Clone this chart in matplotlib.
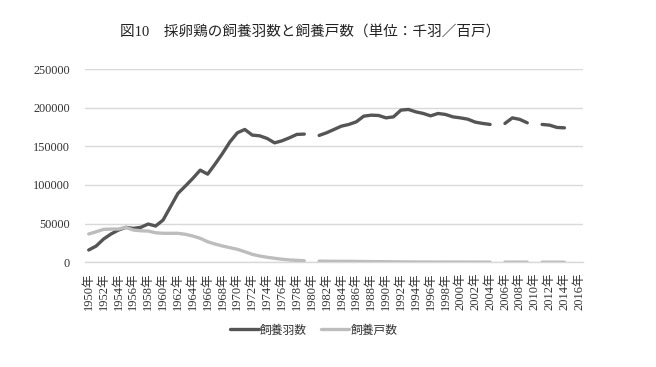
import numpy as np
import matplotlib
matplotlib.use("Agg")
import matplotlib.pyplot as plt

years = list(range(1950, 2017))
nan = np.nan

# 飼養羽数 (千羽)
hasu = [15900, 21000, 30100, 36600, 41700, 45200, 43900, 45200, 49500, 46900,
        54600, 71800, 89100, 98600, 108500, 119200, 114000, 127000, 140800, 155800,
        167500, 171800, 164500, 163600, 160200, 154500, 157100, 161000, 165400, 165800,
        nan, 164100, 167500, 171800, 176100, 178300, 181700, 189000, 190300, 189900,
        186800, 188100, 196800, 197700, 194600, 192500, 189400, 192500, 191200, 188100,
        186800, 185100, 181300, 179600, 178300, nan, 179600, 186800, 184800, 180400,
        nan, 178300, 177400, 174400, 173900, nan, nan]

# 飼養戸数 (百戸)
kosu = [36600, 39500, 42600, 43000, 43000, 45200, 41700, 40800, 40400, 38200,
        37500, 37500, 37500, 36200, 34000, 31000, 26600, 23600, 21100, 18900,
        16800, 13700, 10300, 8100, 6500, 5200, 4000, 3100, 2500, 2000,
        nan, 1500, 1400, 1300, 1250, 1230, 1100, 1000, 900, 800,
        700, 600, 500, 450, 400, 360, 320, 290, 270, 250,
        240, 230, 220, 210, 200, nan, 190, 180, 170, 160,
        nan, 150, 140, 130, 120, nan, nan]

title = "図10　採卵鶏の飼養羽数と飼養戸数（単位：千羽／百戸）"
series_names = ["飼養羽数", "飼養戸数"]
yticks = [0, 50000, 100000, 150000, 200000, 250000]

plt.rcParams['font.family'] = ['Liberation Serif', 'Noto Sans CJK JP', 'DejaVu Sans']

fig = plt.figure(figsize=(6.56, 3.67), dpi=100)
ax = fig.add_axes([85/656, 1-262.3/367, (583-85)/656, (262.3-69)/367])

x = np.arange(len(years))
ax.plot(x, hasu, color='#555555', lw=2.4, solid_capstyle='round', solid_joinstyle='round',
        label=series_names[0], zorder=3)
ax.plot(x, kosu, color='#bdbdbd', lw=2.4, solid_capstyle='round', solid_joinstyle='round',
        label=series_names[1], zorder=3)

ax.set_xlim(-0.5, len(years) - 0.5)
ax.set_ylim(0, 250000)
ax.set_yticks(yticks)
ax.set_yticklabels([str(v) for v in yticks], fontsize=8.8, color='#333333')
ax.set_xticks(x[::2])
ax.set_xticklabels([f"{y}年" for y in years[::2]], rotation=90, fontsize=9, color='#333333')
ax.tick_params(axis='both', length=0)
ax.tick_params(axis='y', pad=11)
ax.tick_params(axis='x', pad=7)
ax.grid(axis='y', color='#d9d9d9', lw=1)
ax.set_axisbelow(True)
for s in ['top', 'right', 'left']:
    ax.spines[s].set_visible(False)
ax.spines['bottom'].set_color('#d9d9d9')
ax.spines['bottom'].set_linewidth(1)

fig.text(310/656, 1-32/367, title, ha='center', va='center', fontsize=10.5,
         family=['Liberation Serif', 'Noto Sans CJK JP'], color='#222222')

leg = fig.legend(loc='center', bbox_to_anchor=(314/656, 1-330/367), ncol=2, frameon=False,
                 handlelength=2.4, handletextpad=0.1, columnspacing=1.2,
                 prop={'family': ['Noto Sans CJK JP'], 'size': 8.5})
for t in leg.get_texts():
    t.set_color('#333333')

fig.savefig("out.png", dpi=100, facecolor='white')
